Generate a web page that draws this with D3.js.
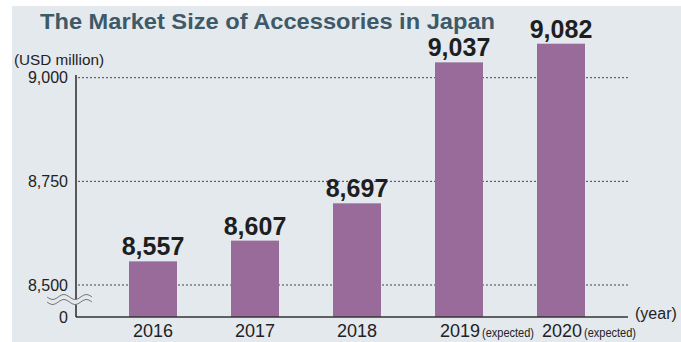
<!DOCTYPE html>
<html>
<head>
<meta charset="utf-8">
<script src="https://cdn.jsdelivr.net/npm/d3@7"></script>
<style>
  body { margin: 0; background: #fff; }
  svg { display: block; font-family: "Liberation Sans", Arial, sans-serif; }
</style>
</head>
<body>
<svg id="chart" width="681" height="342"></svg>
<script>
// chart data
let years = ["2016", "2017", "2018", "2019", "2020"];
let values = [8557, 8607, 8697, 9037, 9082];
let notes = ["", "", "", "(expected)", "(expected)"];
let ticks = [8500, 8750, 9000];

let svg = d3.select("#chart");

// background panel
svg.append("rect")
  .attr("x", 12).attr("y", 6)
  .attr("width", 669).attr("height", 336)
  .attr("fill", "#e4e9ee");

// title
svg.append("text")
  .attr("x", 40).attr("y", 29)
  .style("font-size", "22.5px")
  .style("font-weight", "bold")
  .attr("fill", "#3e5967")
  .attr("textLength", 455)
  .attr("lengthAdjust", "spacingAndGlyphs")
  .text("The Market Size of Accessories in Japan");

svg.append("text")
  .attr("x", 14).attr("y", 65)
  .style("font-size", "14px")
  .attr("fill", "#222")
  .attr("textLength", 90)
  .attr("lengthAdjust", "spacingAndGlyphs")
  .text("(USD million)");

// scales
let axisLeft = 76, axisRight = 628, baseY = 317;
let y = d3.scaleLinear().domain([8500, 9000]).range([285, 77.7]);
let x = d3.scalePoint().domain(years).range([153, 561]);
let barW = 48;

// gridlines
svg.selectAll(".grid")
  .data(ticks)
  .enter()
  .append("line")
  .attr("x1", axisLeft + 2).attr("x2", axisRight)
  .attr("y1", d => y(d)).attr("y2", d => y(d))
  .attr("stroke", "#444")
  .attr("stroke-width", 1)
  .attr("stroke-dasharray", "2,2");

// tick labels
let tickFmt = d3.format(",");
svg.selectAll(".tick")
  .data(ticks.concat([0]))
  .enter()
  .append("text")
  .attr("x", 68)
  .attr("y", d => d === 0 ? baseY + 5.5 : y(d) + 5.5)
  .attr("text-anchor", "end")
  .style("font-size", "16px")
  .attr("fill", "#222")
  .text(d => tickFmt(d));

// bars
svg.selectAll(".bar")
  .data(values)
  .enter()
  .append("rect")
  .attr("x", (d, i) => x(years[i]) - barW / 2)
  .attr("y", d => y(d))
  .attr("width", barW)
  .attr("height", d => baseY - y(d))
  .attr("fill", "#986b9a");

// value labels
svg.selectAll(".val")
  .data(values)
  .enter()
  .append("text")
  .attr("x", (d, i) => x(years[i]))
  .attr("y", d => y(d) - 6)
  .attr("text-anchor", "middle")
  .style("font-size", "25px")
  .style("font-weight", "bold")
  .attr("fill", "#1e1e1e")
  .text(d => tickFmt(d));

// axes lines
svg.append("line")
  .attr("x1", axisLeft).attr("x2", axisLeft)
  .attr("y1", 75).attr("y2", baseY)
  .attr("stroke", "#333").attr("stroke-width", 1.6);
svg.append("line")
  .attr("x1", axisLeft).attr("x2", axisRight)
  .attr("y1", baseY).attr("y2", baseY)
  .attr("stroke", "#333").attr("stroke-width", 1.6);

// axis break (wavy)
let wave = function(y0) {
  return d3.range(0, 46, 1).map(t => [47 + t, y0 + 2.5 * Math.sin(t / 45 * Math.PI * 4)]);
};
let waveLine = d3.line().curve(d3.curveBasis);
let waveTop = wave(297), waveBot = wave(302);
svg.append("path")
  .attr("d", waveLine(waveTop) + "L" + waveLine(waveBot.slice().reverse()).slice(1) + "Z")
  .attr("fill", "#e4e9ee");
svg.append("path").attr("d", waveLine(waveTop)).attr("fill", "none").attr("stroke", "#777").attr("stroke-width", 1);
svg.append("path").attr("d", waveLine(waveBot)).attr("fill", "none").attr("stroke", "#777").attr("stroke-width", 1);

// x labels
years.forEach(function(yr, i) {
  let hasNote = notes[i] !== "";
  svg.append("text")
    .attr("x", hasNote ? x(yr) - 19 : x(yr))
    .attr("y", 337)
    .attr("text-anchor", hasNote ? "start" : "middle")
    .style("font-size", "18px")
    .attr("fill", "#222")
    .text(yr);
  if (hasNote) {
    svg.append("text")
      .attr("x", x(yr) + 23)
      .attr("y", 337)
      .style("font-size", "13.5px")
      .attr("fill", "#222")
      .attr("textLength", 52)
      .attr("lengthAdjust", "spacingAndGlyphs")
      .text(notes[i]);
  }
});

svg.append("text")
  .attr("x", 635).attr("y", 319)
  .style("font-size", "16px")
  .attr("fill", "#222")
  .text("(year)");
</script>
</body>
</html>
